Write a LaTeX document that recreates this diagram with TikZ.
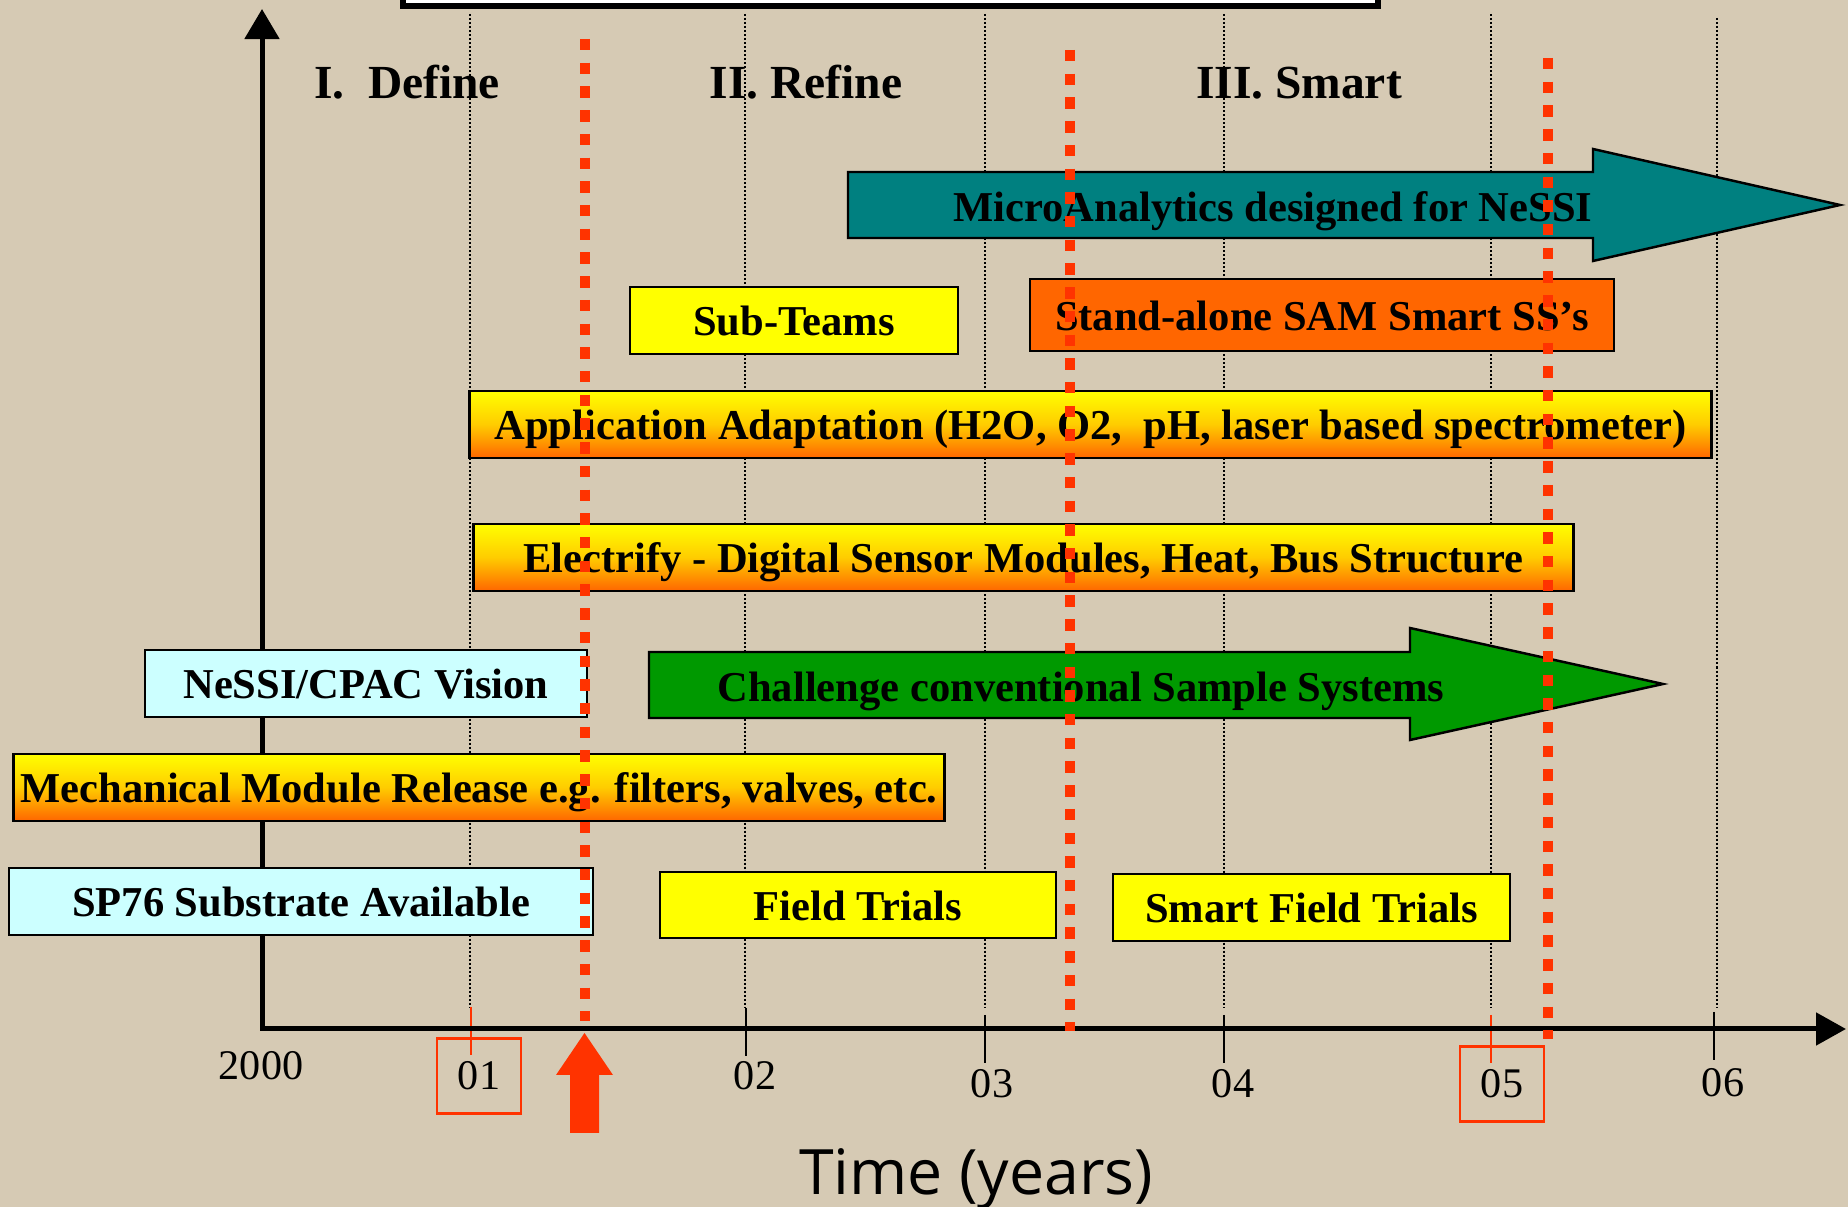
\documentclass[tikz,border=0pt]{standalone}
\usepackage{fontspec}
\setmainfont{Liberation Serif}
\newfontfamily\timefont{Open Sans}
\usetikzlibrary{arrows.meta}

\definecolor{canvas}{RGB}{214,202,180}
\definecolor{milestone}{RGB}{255,51,0}
\definecolor{sunny}{RGB}{255,255,0}
\definecolor{amber}{RGB}{255,204,0}
\definecolor{tangerine}{RGB}{255,102,0}
\definecolor{paleblue}{RGB}{204,255,255}
\definecolor{tealbar}{RGB}{0,128,128}
\definecolor{greenbar}{RGB}{0,153,0}

\tikzset{
  bartext/.style={inner sep=0pt, font=\fontsize{12.1}{14}\selectfont\bfseries, text height=0.95em, text depth=0.08em},
  bar/.style={bartext, draw=black, line width=0.7pt},
  gradbar/.style={bar, top color=sunny, bottom color=tangerine, middle color=amber},
  bigarrow/.style={draw=black, line width=0.7pt},
  yeargrid/.style={black, line width=0.3pt, dash pattern=on 0.02cm off 0.02cm},
  yeartick/.style={black, line width=0.45pt},
  yearlabel/.style={inner sep=0pt, font=\fontsize{12}{14}\selectfont},
  yearbox/.style={draw=milestone, line width=0.6pt, minimum width=0.84cm, minimum height=0.75cm},
  phase/.style={font=\fontsize{13.5}{16}\selectfont\bfseries},
  phaseline/.style={milestone, line width=0.1cm, dash pattern=on 0.115cm off 0.122cm}
}

\begin{document}
\begin{tikzpicture}[x=0.01cm,y=-0.01cm]
  \useasboundingbox (0,0) rectangle (1848,1207);
  \fill[canvas] (0,0) rectangle (1848,1207);
  \draw[line width=0.06cm, fill=white] (403,-40) rectangle (1378,6);

  \draw[yeargrid] (470,14) -- (470,1008);
  \draw[yeargrid] (745,14) -- (745,1008);
  \draw[yeargrid] (985,14) -- (985,1008);
  \draw[yeargrid] (1224,14) -- (1224,1008);
  \draw[yeargrid] (1491,14) -- (1491,1008);
  \draw[yeargrid] (1717,18) -- (1717,1008);

  \draw[yeartick, milestone] (471,1007) -- (471,1055);
  \draw[yeartick] (746,1008) -- (746,1056);
  \draw[yeartick] (985,1015) -- (985,1063);
  \draw[yeartick] (1224,1015) -- (1224,1063);
  \draw[yeartick, milestone] (1491,1015) -- (1491,1063);
  \draw[yeartick] (1714,1012) -- (1714,1060);

  \draw[line width=0.05cm, {Triangle[length=0.3cm,width=0.34cm]}-{Triangle[length=0.3cm,width=0.32cm]}] (262,9) |- (1846,1029);

  \node[yearlabel] (y00) at (261,1066) {2000};
  \node[yearlabel, yearbox] (y01) at (479,1076) {01};
  \node[yearlabel] (y02) at (755,1076) {02};
  \node[yearlabel] (y03) at (992,1084) {03};
  \node[yearlabel] (y04) at (1233,1084) {04};
  \node[yearlabel, yearbox] (y05) at (1502,1084) {05};
  \node[yearlabel] (y06) at (1723,1083) {06};
  \node[font={\timefont\fontsize{17.8}{20}\selectfont}, anchor=base] (timelabel) at (976,1195) {Time (years)};

  \node[phase, anchor=base] (define) at (407,99) {I.\ \ Define};
  \node[phase, anchor=base] (refine) at (806,99) {II. Refine};
  \node[phase, anchor=base] (smart) at (1299,99) {III. Smart};

  \draw[bigarrow, fill=tealbar] (848,172) -- (1593,172) -- (1593,149) -- (1840,205) -- (1593,261) -- (1593,238) -- (848,238) -- cycle;
  \node[bartext] (micro) at (1273,206) {MicroAnalytics designed for NeSSI};
  \draw[bigarrow, fill=greenbar] (649,652) -- (1410,652) -- (1410,628) -- (1663,684) -- (1410,740) -- (1410,718) -- (649,718) -- cycle;
  \node[bartext] (challenge) at (1081,686) {Challenge conventional Sample Systems};

  \node[bar, fill=sunny, minimum width=3.28cm, minimum height=0.67cm] (subteams) at (794,320.5) {Sub-Teams};
  \node[bar, fill=tangerine, minimum width=5.84cm, minimum height=0.72cm] (standalone) at (1322,315) {Stand-alone SAM Smart SS’s};
  \node[gradbar, minimum width=12.41cm, minimum height=0.67cm] (adaptation) at (1090.5,424.5) {Application Adaptation (H2O, O2,\ \ pH, laser based spectrometer)};
  \node[gradbar, minimum width=10.99cm, minimum height=0.67cm] (electrify) at (1023.5,557.5) {Electrify - Digital Sensor Modules, Heat, Bus Structure};
  \node[bar, fill=paleblue, minimum width=4.42cm, minimum height=0.67cm] (vision) at (366,683.5) {NeSSI/CPAC Vision};
  \node[gradbar, minimum width=9.30cm, minimum height=0.67cm] (mechanical) at (479,787.5) {Mechanical Module Release e.g. filters, valves, etc.};
  \node[bar, fill=paleblue, minimum width=5.84cm, minimum height=0.67cm] (substrate) at (301,901.5) {SP76 Substrate Available};
  \node[bar, fill=sunny, minimum width=3.96cm, minimum height=0.66cm] (fieldtrials) at (858,905) {Field Trials};
  \node[bar, fill=sunny, minimum width=3.97cm, minimum height=0.67cm] (smarttrials) at (1311.5,907.5) {Smart Field Trials};

  \draw[phaseline] (584.5,39) -- (584.5,1021);
  \draw[phaseline] (1069.5,50) -- (1069.5,1031);
  \draw[phaseline] (1547.5,58) -- (1547.5,1039);

  \fill[milestone] (584.5,1033) -- (613,1075) -- (599,1075) -- (599,1133) -- (570,1133) -- (570,1075) -- (556,1075) -- cycle;
\end{tikzpicture}
\end{document}
